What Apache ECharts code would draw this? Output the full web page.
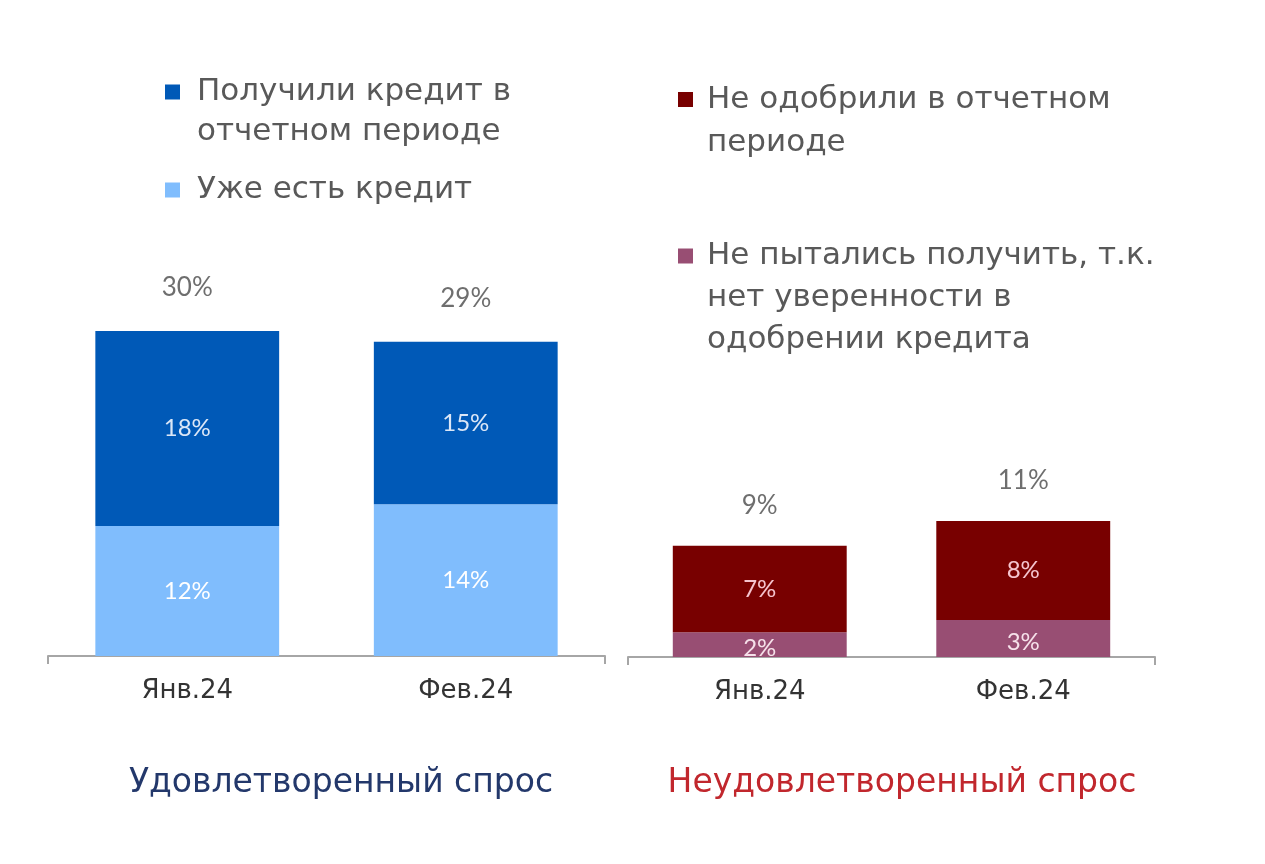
<!DOCTYPE html>
<html lang="ru">
<head>
    <meta charset="UTF-8">
    <title>Удовлетворенный и неудовлетворенный спрос</title>
    <script src="https://cdn.jsdelivr.net/npm/echarts@6/dist/echarts.min.js"></script>
    <style>
        html, body { margin: 0; padding: 0; background: #ffffff; }
        #chart { width: 1265px; height: 864px; }
    </style>
</head>
<body>
    <div id="chart"></div>
    <script>
        // Data
        var months = ['Янв.24', 'Фев.24'];

        var gotCredit = [18, 15];      // Получили кредит в отчетном периоде
        var hasCredit = [12, 14];      // Уже есть кредит
        var satisfiedTotal = [30, 29];

        var notApproved = [7, 8];      // Не одобрили в отчетном периоде
        var didNotTry = [2, 3];        // Не пытались получить
        var unsatisfiedTotal = [9, 11];

        var FONT = 'DejaVu Sans';
        var NUM_FONT = 'Lato';
        var GREY = '#595959';

        function pct(p) { return p.value + '%'; }

        var chart = echarts.init(document.getElementById('chart'));

        // the icon sits on the first text line: pad the block with empty lines on top
        function legend(name, left, top, lineHeight, padLeft) {
            var extra = name.split('\n').length - 1;
            return {
                data: [name],
                left: left,
                top: top,
                padding: 0,
                icon: 'rect',
                itemWidth: 15,
                itemHeight: 15,
                selectedMode: false,
                formatter: function (n) { return new Array(extra + 1).join('\n') + n; },
                textStyle: {
                    fontFamily: FONT,
                    fontSize: 31,
                    color: GREY,
                    lineHeight: lineHeight,
                    padding: [0, 0, 0, padLeft]
                }
            };
        }

        var option = {
            animation: false,
            title: [
                {
                    text: 'Удовлетворенный спрос',
                    left: 336, top: 762, textAlign: 'center',
                    textStyle: { fontFamily: FONT, fontSize: 33, fontWeight: 'normal', color: '#23386b' }
                },
                {
                    text: 'Неудовлетворенный спрос',
                    left: 897, top: 762, textAlign: 'center',
                    textStyle: { fontFamily: FONT, fontSize: 33, fontWeight: 'normal', color: '#c1272d' }
                }
            ],
            legend: [
                legend('Получили кредит в\nотчетном периоде', 165, 32, 40, 12),
                legend('Уже есть кредит', 165, 170, 40, 12),
                legend('Не одобрили в отчетном\nпериоде', 678, 35, 43, 9),
                legend('Не пытались получить, т.к.\nнет уверенности в\nодобрении кредита', 678, 151, 42, 9)
            ],
            grid: [
                { left: 48, right: 660, top: 331, bottom: 208 },
                { left: 628, right: 110, top: 521, bottom: 207 }
            ],
            xAxis: [
                {
                    type: 'category', gridIndex: 0, data: months,
                    axisLine: { show: false }, axisTick: { show: false },
                    axisLabel: { fontFamily: FONT, fontSize: 26, color: '#333333', margin: 22 }
                },
                {
                    type: 'category', gridIndex: 1, data: months,
                    axisLine: { show: false }, axisTick: { show: false },
                    axisLabel: { fontFamily: FONT, fontSize: 26, color: '#333333', margin: 22 }
                },
                // bracket-style baseline with end ticks
                {
                    type: 'value', gridIndex: 0, min: 0, max: 1, interval: 1, position: 'bottom',
                    axisLine: { show: true, lineStyle: { color: '#a6a6a6', width: 2 } },
                    axisTick: { show: true, length: 8, lineStyle: { color: '#a6a6a6', width: 2 } },
                    axisLabel: { show: false }, splitLine: { show: false }
                },
                {
                    type: 'value', gridIndex: 1, min: 0, max: 1, interval: 1, position: 'bottom',
                    axisLine: { show: true, lineStyle: { color: '#a6a6a6', width: 2 } },
                    axisTick: { show: true, length: 8, lineStyle: { color: '#a6a6a6', width: 2 } },
                    axisLabel: { show: false }, splitLine: { show: false }
                }
            ],
            yAxis: [
                { type: 'value', gridIndex: 0, min: 0, max: 30, show: false },
                { type: 'value', gridIndex: 1, min: 0, max: 11, show: false }
            ],
            series: [
                {
                    name: 'Уже есть кредит', type: 'bar', stack: 's', xAxisIndex: 0, yAxisIndex: 0,
                    data: hasCredit, barWidth: '66%',
                    itemStyle: { color: '#80bdfd' },
                    label: { show: true, position: 'inside', formatter: pct, fontFamily: NUM_FONT, fontSize: 24, color: '#ffffff' }
                },
                {
                    name: 'Получили кредит в\nотчетном периоде', type: 'bar', stack: 's', xAxisIndex: 0, yAxisIndex: 0,
                    data: gotCredit, barWidth: '66%',
                    itemStyle: { color: '#0059b7' },
                    label: { show: true, position: 'inside', formatter: pct, fontFamily: NUM_FONT, fontSize: 24, color: '#dbe7f7' }
                },
                {
                    name: 'satisfiedTotal', type: 'scatter', xAxisIndex: 0, yAxisIndex: 0,
                    data: satisfiedTotal, symbolSize: 1, itemStyle: { color: 'rgba(0,0,0,0)' }, silent: true,
                    label: { show: true, position: 'top', distance: 30, formatter: pct, fontFamily: NUM_FONT, fontSize: 26, color: '#4a4a4a' }
                },
                {
                    name: 'Не пытались получить, т.к.\nнет уверенности в\nодобрении кредита', type: 'bar', stack: 'u', xAxisIndex: 1, yAxisIndex: 1,
                    data: didNotTry, barWidth: '66%',
                    itemStyle: { color: '#984e73' },
                    label: { show: true, position: 'inside', offset: [0, 4], formatter: pct, fontFamily: NUM_FONT, fontSize: 24, color: '#f6e1ea' }
                },
                {
                    name: 'Не одобрили в отчетном\nпериоде', type: 'bar', stack: 'u', xAxisIndex: 1, yAxisIndex: 1,
                    data: notApproved, barWidth: '66%',
                    itemStyle: { color: '#780000' },
                    label: { show: true, position: 'inside', formatter: pct, fontFamily: NUM_FONT, fontSize: 24, color: '#f5c4ce' }
                },
                {
                    name: 'unsatisfiedTotal', type: 'scatter', xAxisIndex: 1, yAxisIndex: 1,
                    data: unsatisfiedTotal, symbolSize: 1, itemStyle: { color: 'rgba(0,0,0,0)' }, silent: true,
                    label: { show: true, position: 'top', distance: 27, formatter: pct, fontFamily: NUM_FONT, fontSize: 26, color: '#4a4a4a' }
                }
            ]
        };

        chart.setOption(option);
    </script>
</body>
</html>
